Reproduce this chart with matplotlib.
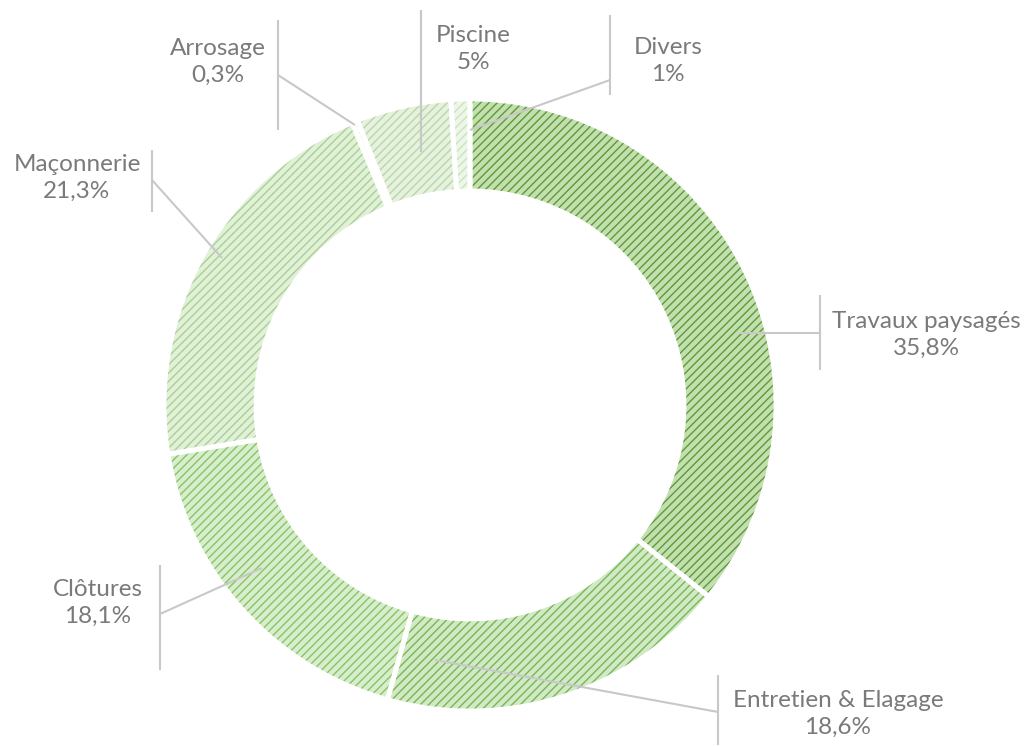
import matplotlib.pyplot as plt
import matplotlib as mpl

labels = ["Travaux paysagés", "Entretien & Elagage", "Clôtures", "Maçonnerie",
          "Arrosage", "Piscine", "Divers"]
values = [35.8, 18.6, 18.1, 21.3, 0.3, 5, 1]
pct_labels = ["35,8%", "18,6%", "18,1%", "21,3%", "0,3%", "5%", "1%"]

face_colors = ["#c3dfb0", "#d2e9c5", "#d8edcd", "#e2f0d9", "#edf6e8", "#e6f1df", "#edf6e8"]
hatch_colors = ["#5c9a38", "#78b654", "#86c563", "#a6d290", "#c4e1b6", "#b7d8a5", "#c9e4bc"]

# label layout in pixel coords (y measured from top): anchor on ring, elbow, bar, text center
anchors = [(740, 333), (435, 660), (262, 568), (222, 258), (355, 125), (421, 152), (470, 130)]
elbows = [(820, 333), (718, 712), (160, 614), (152, 180), (278, 75), (421, 10), (610, 80)]
bars = [(295, 370), (675, 745), (565, 670), (150, 212), (20, 130), (10, 152), (15, 95)]
text_pos = [(926, 335), (838, 714), (98, 603), (77, 178), (218, 62), (473, 49), (668, 61)]

W, H = 1030, 747
mpl.rcParams['hatch.linewidth'] = 1.0
fig = plt.figure(figsize=(W / 100, H / 100), dpi=100)
ax = fig.add_axes([0, 0, 1, 1])
ax.set_xlim(0, W)
ax.set_ylim(0, H)
ax.set_aspect('equal')
ax.axis('off')

center = (470, H - 405)
radius = 306
width = 92

wedges, _ = ax.pie(values, startangle=90, counterclock=False, center=center, radius=radius,
                   colors=face_colors, wedgeprops=dict(width=width, linewidth=0), frame=True)
for w, hc in zip(wedges, hatch_colors):
    w.set_hatch('////')
    w.set_edgecolor(hc)
    w.set_linewidth(0)

# white separators on top
sep, _ = ax.pie(values, startangle=90, counterclock=False, center=center, radius=radius,
                colors=['none'] * len(values),
                wedgeprops=dict(width=width, linewidth=3.5, edgecolor='white', fill=False),
                frame=True)
ax.set_xlim(0, W)
ax.set_ylim(0, H)
ax.axis('off')

line_c = "#c8c8c8"
text_c = "#7a7a7a"
for i in range(len(labels)):
    ax_, ay = anchors[i]
    ex, ey = elbows[i]
    ax.plot([ax_, ex], [H - ay, H - ey], color=line_c, lw=1.5, solid_capstyle='butt')
    b0, b1 = bars[i]
    ax.plot([ex, ex], [H - b0, H - b1], color=line_c, lw=1.5, solid_capstyle='butt')
    tx, ty = text_pos[i]
    ax.text(tx, H - ty, labels[i] + "\n" + pct_labels[i], ha='center', va='center',
            color=text_c, fontsize=17.5, family='Lato', linespacing=1.3)

fig.savefig("out.png", dpi=100)
